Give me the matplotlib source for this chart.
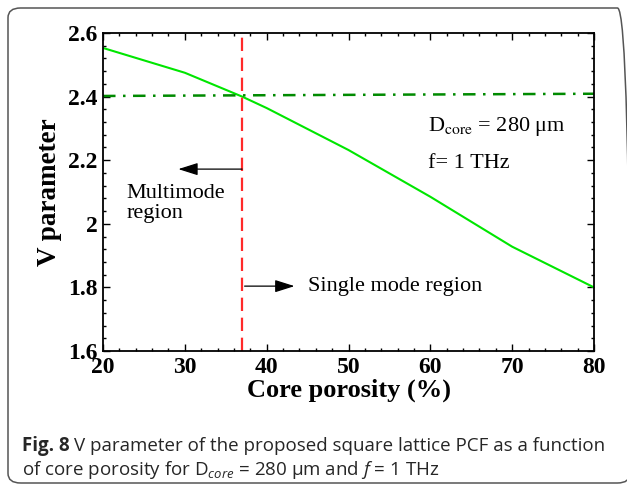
import numpy as np
import matplotlib
matplotlib.use("Agg")
import matplotlib.pyplot as plt
from matplotlib.patches import FancyBboxPatch
from matplotlib.ticker import MultipleLocator

# data
porosity = [20, 30, 37, 40, 50, 60, 70, 80]
v_param = [2.553, 2.475, 2.40, 2.364, 2.232, 2.085, 1.928, 1.80]
cutoff_x = [20, 80]
cutoff_v = [2.402, 2.409]
boundary = 37

plt.rcParams['font.family'] = ['Liberation Serif', 'DejaVu Serif']

fig = plt.figure(figsize=(6.27, 4.84), dpi=100)
ax = fig.add_axes([0.1643, 0.2748, 0.7831, 0.657])

ax.plot(porosity, v_param, color='#00e600', lw=1.5)
ax.plot(cutoff_x, cutoff_v, color='#008a00', lw=1.8, dashes=(5, 3, 1, 3))
ax.axvline(boundary, color='#ff2a2a', lw=1.6, dashes=(6, 3))

ax.set_xlim(20, 80)
ax.set_ylim(1.6, 2.6)
ax.set_xticks([20, 30, 40, 50, 60, 70, 80])
ax.set_yticks([1.6, 1.8, 2.0, 2.2, 2.4, 2.6])
ax.set_yticklabels(['1.6', '1.8', '2', '2.2', '2.4', '2.6'])
ax.xaxis.set_minor_locator(MultipleLocator(2))
ax.yaxis.set_minor_locator(MultipleLocator(0.04))
ax.tick_params(which='both', direction='in', top=True, right=True, width=1)
ax.tick_params(which='major', length=5, labelsize=17, pad=4)
ax.tick_params(which='minor', length=2.5)
for lab in ax.get_xticklabels() + ax.get_yticklabels():
    lab.set_fontweight('bold')
for sp in ax.spines.values():
    sp.set_linewidth(1.3)

ax.set_xlabel('Core porosity (%)', fontsize=19, fontweight='bold', labelpad=1)
ax.set_ylabel('V parameter', fontsize=19.5, fontweight='bold', labelpad=4)

# annotations
arrow = dict(arrowstyle='-|>,head_length=1.2,head_width=0.38',
             color='black', lw=0.9, shrinkA=0, shrinkB=0)
ax.annotate('', xy=(29.2, 2.172), xytext=(37, 2.172), arrowprops=arrow)
ax.text(22.9, 2.125, 'Multimode\nregion', fontsize=16, va='top', ha='left',
        linespacing=1.1)
ax.annotate('', xy=(43.4, 1.804), xytext=(37.3, 1.804), arrowprops=arrow)
ax.text(45.0, 1.804, 'Single mode region', fontsize=16, va='center', ha='left')
ax.text(59.7, 2.305, r'D$_{\mathrm{core}}$ = 280 μm', fontsize=16,
        va='center', ha='left', math_fontfamily='stix')
ax.text(59.7, 2.19, 'f= 1 THz', fontsize=16, va='center', ha='left')

# caption
cap = dict(fontsize=13.5, color='#262626', family='Open Sans')
renderer = fig.canvas.get_renderer()
t1 = fig.text(22 / 627, 1 - 451 / 484, 'Fig. 8', fontweight='bold', **cap)
bb = t1.get_window_extent(renderer)
fig.text((bb.x1 + 4) / 627, 1 - 451 / 484,
         'V parameter of the proposed square lattice PCF as a function', **cap)
plt.rcParams['mathtext.fontset'] = 'custom'
plt.rcParams['mathtext.rm'] = 'Open Sans'
plt.rcParams['mathtext.it'] = 'Open Sans:italic'
fig.text(22 / 627, 1 - 475 / 484,
         r'of core porosity for D$_{core}$ = 280 μm and $f$ = 1 THz',
         math_fontfamily='custom', **cap)

# rounded frame around the figure (cut off at right and bottom)
frame = FancyBboxPatch((8 / 627, 1 / 484), 622 / 627, 475 / 484,
                       boxstyle='round,pad=0,rounding_size=0.02',
                       transform=fig.transFigure, fill=False,
                       edgecolor='#555555', lw=1.1, clip_on=False)
fig.patches.append(frame)

fig.savefig('out.png', dpi=100)
